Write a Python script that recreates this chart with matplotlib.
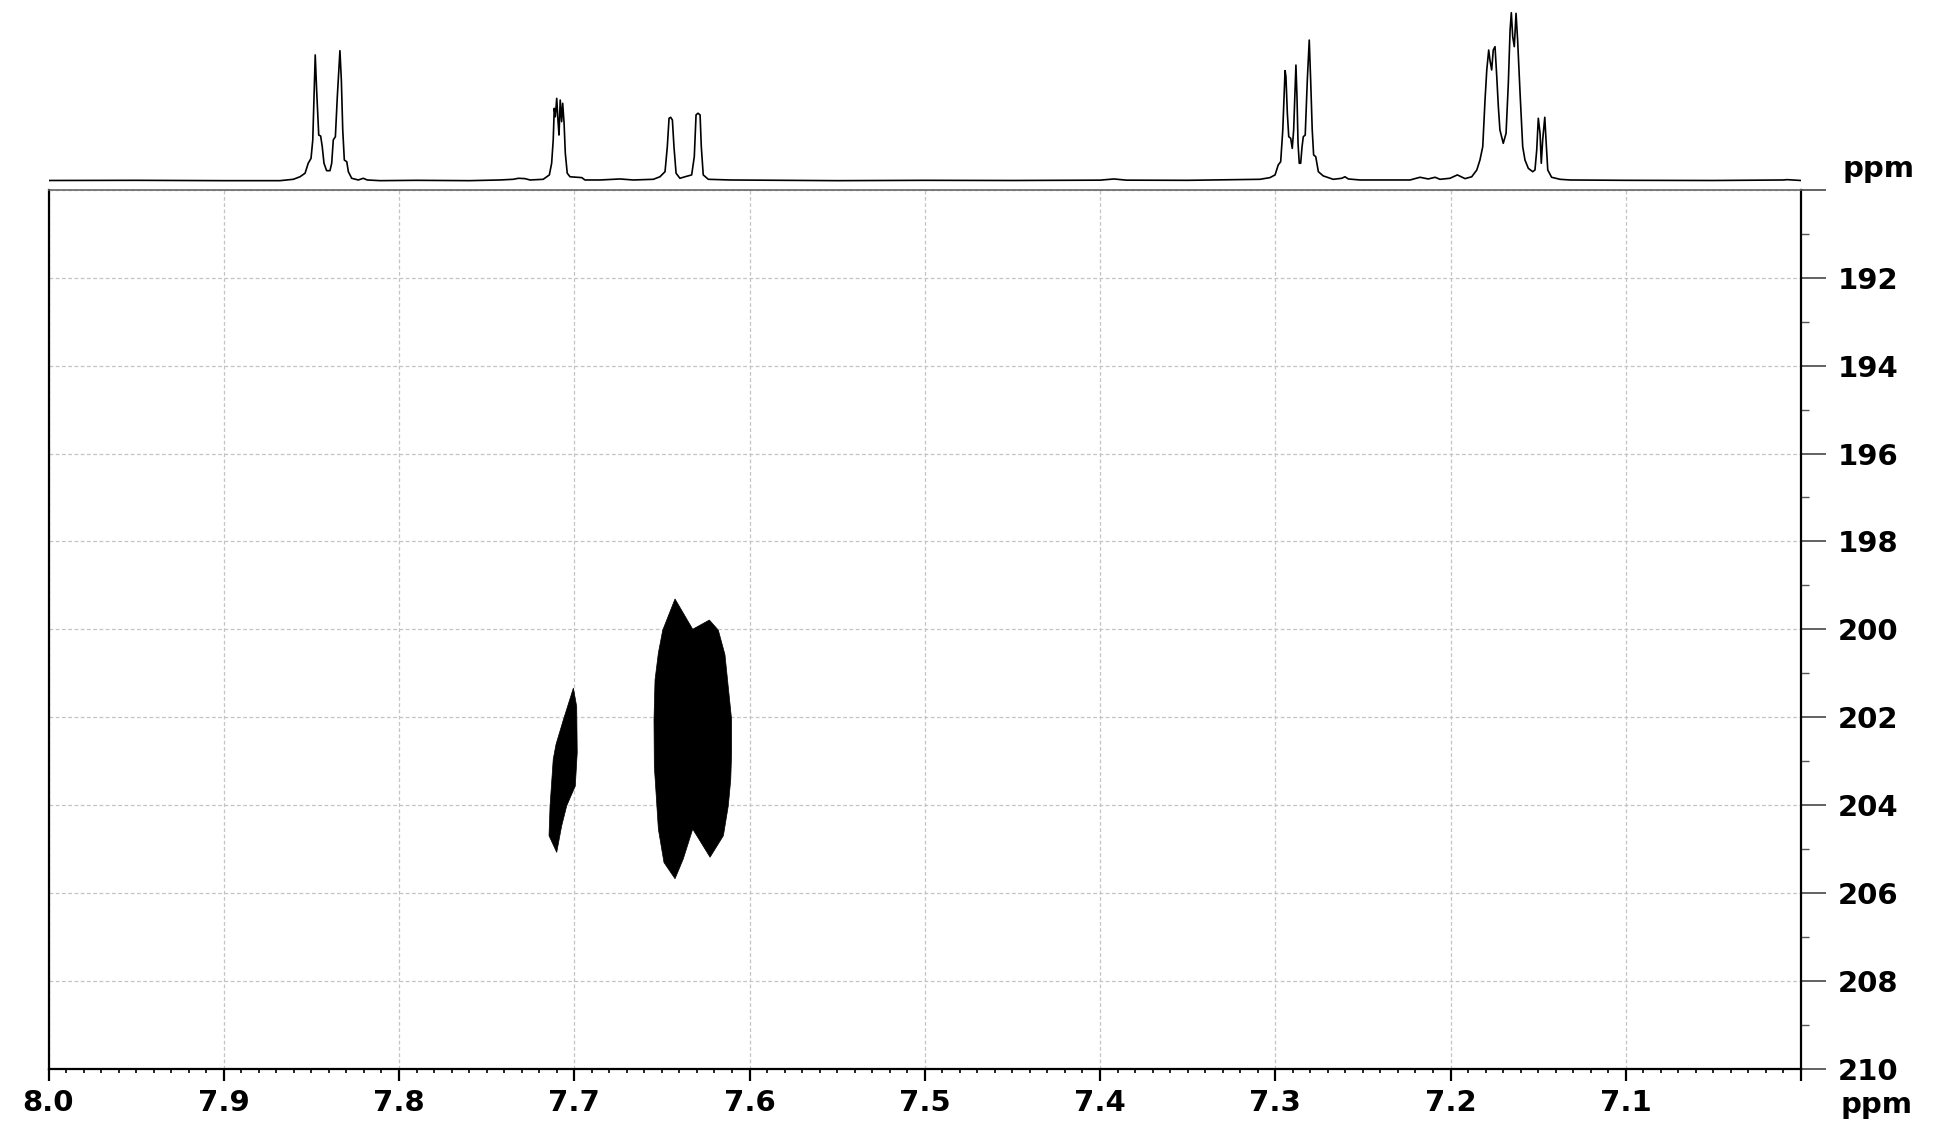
import matplotlib
matplotlib.use("Agg")
import matplotlib.pyplot as plt
from matplotlib.ticker import FixedLocator, MultipleLocator

# ---------------- data ----------------
# 1H projection trace (ppm, relative intensity)
h1_ppm = [8.000, 7.950, 7.900, 7.8679, 7.8603, 7.8565, 7.8536, 7.8518, 7.8502, 7.8492, 7.8485,
          7.8478, 7.8470, 7.8458, 7.8447, 7.8438, 7.8428, 7.8413, 7.8394, 7.8384, 7.8375,
          7.8363, 7.8352, 7.8337, 7.8329, 7.8321, 7.8312, 7.8298, 7.8289, 7.8270, 7.8232,
          7.8204, 7.8181, 7.8108, 7.790, 7.760,
          7.7424, 7.7348, 7.7319, 7.7281, 7.7252, 7.7177, 7.7142, 7.7129, 7.7120, 7.7114,
          7.7108, 7.7100, 7.7093, 7.7087, 7.7080, 7.7072, 7.7066, 7.7058, 7.7051, 7.7040,
          7.7024, 7.6986, 7.6957, 7.6939, 7.6853, 7.6739, 7.6663, 7.6549, 7.6511, 7.6482,
          7.6469, 7.6459, 7.6450, 7.6440, 7.6431, 7.6419, 7.6397, 7.6368, 7.6330, 7.6315,
          7.6305, 7.6294, 7.6282, 7.6275, 7.6264, 7.6235, 7.6111,
          7.580, 7.550, 7.500, 7.450, 7.400, 7.392, 7.385, 7.350,
          7.3087, 7.3030, 7.3001, 7.2983, 7.2969, 7.2957, 7.2950, 7.2944, 7.2939, 7.2931,
          7.2923, 7.2912, 7.2903, 7.2895, 7.2887, 7.2882, 7.2876, 7.2870, 7.2863, 7.2855,
          7.2847, 7.2840, 7.2829, 7.2817, 7.2806, 7.2798, 7.2789, 7.2781, 7.2769, 7.2754,
          7.2726, 7.2669, 7.2621, 7.2602, 7.2583, 7.2516,
          7.2402, 7.2231, 7.2174, 7.2127, 7.2088, 7.2060, 7.2003, 7.1961, 7.1917,
          7.1879, 7.1850, 7.1832, 7.1816, 7.1803, 7.1793, 7.1782, 7.1775, 7.1765, 7.1756,
          7.1746, 7.1736, 7.1727, 7.1718, 7.1699, 7.1683, 7.1670, 7.1660, 7.1653, 7.1645,
          7.1636, 7.1626, 7.1617, 7.1603, 7.1588, 7.1575, 7.1556, 7.1531, 7.1518, 7.1508,
          7.1499, 7.1489, 7.1482, 7.1474, 7.1462, 7.1455, 7.1445, 7.1423, 7.1375, 7.1318,
          7.100, 7.050, 7.010, 7.008, 7.000]
h1_int = [0.003, 0.004, 0.002, 0.002, 0.010, 0.025, 0.046, 0.105, 0.134, 0.243, 0.499,
          0.746, 0.538, 0.272, 0.266, 0.203, 0.105, 0.061, 0.061, 0.105, 0.243,
          0.262, 0.499, 0.771, 0.598, 0.302, 0.124, 0.114, 0.055, 0.016, 0.006,
          0.016, 0.006, 0.002, 0.004, 0.002,
          0.006, 0.010, 0.016, 0.014, 0.006, 0.010, 0.036, 0.105, 0.243, 0.430,
          0.380, 0.489, 0.361, 0.272, 0.479, 0.351, 0.460, 0.341, 0.164, 0.046,
          0.025, 0.022, 0.020, 0.006, 0.006, 0.012, 0.006, 0.010, 0.025, 0.055,
          0.203, 0.371, 0.377, 0.361, 0.203, 0.046, 0.016, 0.025, 0.036, 0.144,
          0.391, 0.401, 0.391, 0.203, 0.036, 0.010, 0.006,
          0.004, 0.002, 0.004, 0.003, 0.005, 0.012, 0.005, 0.004,
          0.010, 0.020, 0.036, 0.095, 0.114, 0.302, 0.499, 0.653, 0.617, 0.401,
          0.262, 0.253, 0.193, 0.302, 0.538, 0.686, 0.499, 0.223, 0.105, 0.105,
          0.203, 0.262, 0.272, 0.598, 0.834, 0.598, 0.302, 0.154, 0.144, 0.055,
          0.030, 0.010, 0.016, 0.025, 0.012, 0.006,
          0.006, 0.006, 0.022, 0.012, 0.022, 0.010, 0.016, 0.036, 0.014,
          0.025, 0.065, 0.124, 0.203, 0.479, 0.657, 0.775, 0.716, 0.657, 0.775,
          0.795, 0.617, 0.440, 0.302, 0.223, 0.282, 0.578, 0.893, 0.996, 0.854,
          0.795, 0.992, 0.834, 0.519, 0.203, 0.124, 0.075, 0.055, 0.065, 0.183,
          0.371, 0.282, 0.105, 0.243, 0.377, 0.243, 0.065, 0.022, 0.010, 0.006,
          0.004, 0.003, 0.006, 0.008, 0.003]

# 2D cross-peak outlines (1H ppm, 13C ppm)
peak1_h = [7.7005, 7.6986, 7.6983, 7.6994, 7.7015, 7.7043, 7.7072, 7.7100, 7.7144,
           7.7138, 7.7120, 7.7104, 7.7062]
peak1_c = [201.34, 201.76, 202.81, 203.57, 203.76, 204.02, 204.48, 205.08, 204.70,
           204.02, 202.96, 202.62, 202.06]
peak2_h = [7.6425, 7.6324, 7.6229, 7.6178, 7.6140, 7.6102, 7.6102, 7.6107, 7.6121,
           7.6149, 7.6225, 7.6324, 7.6378, 7.6425, 7.6488, 7.6520, 7.6543, 7.6545,
           7.6539, 7.6520, 7.6495]
peak2_c = [199.31, 200.00, 199.79, 200.02, 200.58, 202.06, 202.80, 203.42, 204.02,
           204.70, 205.19, 204.55, 205.23, 205.68, 205.31, 204.55, 203.12, 202.06,
           201.15, 200.54, 200.02]

x_ticks = [8.0, 7.9, 7.8, 7.7, 7.6, 7.5, 7.4, 7.3, 7.2, 7.1, 7.0]
x_labels = ["8.0", "7.9", "7.8", "7.7", "7.6", "7.5", "7.4", "7.3", "7.2", "7.1", ""]
y_ticks = [190, 192, 194, 196, 198, 200, 202, 204, 206, 208, 210]
y_labels = ["", "192", "194", "196", "198", "200", "202", "204", "206", "208", "210"]

# ---------------- figure ----------------
W, H = 1942, 1122
fig = plt.figure(figsize=(W / 100, H / 100), dpi=100)
FONT = dict(family="DejaVu Sans", weight="bold", size=21)

L, R = 48.5, 1801.0
top2d, bot2d = 190.0, 1068.5
ax = fig.add_axes([L / W, 1 - bot2d / H, (R - L) / W, (bot2d - top2d) / H])
ax1 = fig.add_axes([L / W, 1 - top2d / H, (R - L) / W, top2d / H])

# 1D trace
ax1.plot(h1_ppm, h1_int, color="black", lw=1.2, solid_joinstyle="round")
ax1.set_xlim(8.0, 7.0)
ax1.set_ylim(-0.0533, 1.071)
ax1.axis("off")

# 2D cross peaks
ax.fill(peak1_h, peak1_c, color="black", lw=0.5, ec="black")
ax.fill(peak2_h, peak2_c, color="black", lw=0.5, ec="black")

ax.set_xlim(8.0, 7.0)
ax.set_ylim(210, 190)

ax.xaxis.set_major_locator(FixedLocator(x_ticks))
ax.set_xticklabels(x_labels, **FONT)
ax.xaxis.set_minor_locator(MultipleLocator(0.01))
ax.yaxis.tick_right()
ax.yaxis.set_major_locator(FixedLocator(y_ticks))
ax.set_yticklabels(y_labels, **FONT)
ax.yaxis.set_minor_locator(MultipleLocator(1))

ax.tick_params(axis="x", which="major", direction="out", length=8.6, width=1.6,
               color="black", pad=6.5)
ax.tick_params(axis="x", which="minor", direction="out", length=3.0, width=1.2,
               color="black")
ax.tick_params(axis="y", which="major", direction="out", length=18, width=1.3,
               color="#555555", pad=8.5, left=False, right=True)
ax.tick_params(axis="y", which="minor", direction="out", length=5.8, width=1.0,
               color="#555555", left=False, right=True)

for lab in ax.get_yticklabels():
    lab.set_horizontalalignment("left")

ax.grid(True, which="major", color="#c4c4c4", linestyle=(0, (3, 2)), lw=0.9)
ax.set_axisbelow(True)

for s in ("left", "bottom", "right"):
    ax.spines[s].set_color("black")
    ax.spines[s].set_linewidth(1.6)
ax.spines["top"].set_color("#666666")
ax.spines["top"].set_linewidth(1.2)

# unit labels
fig.text(1878 / W, 1 - 177 / H, "ppm", ha="center", va="baseline", **FONT)
fig.text(1876 / W, 1 - 1113 / H, "ppm", ha="center", va="baseline", **FONT)

fig.savefig("out.png", dpi=100, facecolor="white")
